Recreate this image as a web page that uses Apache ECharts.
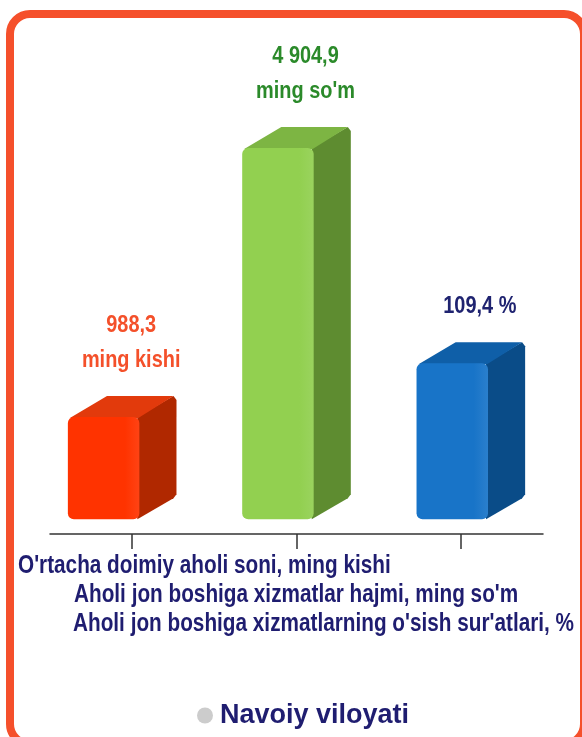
<!DOCTYPE html>
<html>
<head>
<meta charset="utf-8">
<script src="https://cdn.jsdelivr.net/npm/echarts@6/dist/echarts.min.js"></script>
<style>
html, body {margin:0; padding:0; background:#ffffff;}
#main {width:582px; height:737px;}
</style>
</head>
<body>
<div id="main"></div>
<script>
// kategoriyalar va qiymatlar
var categories = [
    "O'rtacha doimiy aholi soni, ming kishi",
    "Aholi jon boshiga xizmatlar hajmi, ming so'm",
    "Aholi jon boshiga xizmatlarning o'sish sur'atlari, %"
];
var valueLabels = ['988,3\nming kishi', "4 904,9\nming so'm", '109,4 %'];
// ustun balandligi (rasmdagi nisbiy balandlik, eng balandi = 100)
var barHeights = [27.5, 100, 42];
var legendName = 'Navoiy viloyati';

var frontColors = ['#ff3300', '#92d050', '#1874c8'];
var topColors = ['#e23a0c', '#7db543', '#0f5fa8'];
var sideColors = ['#b02800', '#5e8c30', '#0a4c88'];
var labelColors = ['#f4502a', '#2b8a2a', '#1f2370'];

// tor shrift yo'q, shuning uchun matnni gorizontal siqamiz
var FONT = "'Liberation Sans', Arial, sans-serif";
var NARROW = 0.83;
var NAVY = '#1f1d70';

var myChart = echarts.init(document.getElementById('main'));

function renderItem(params, api) {
    var i = params.dataIndex;
    var base = api.coord([i, 0]);
    var top = api.coord([i, api.value(1)]);
    var band = api.size([1, 0])[0];
    var fw = band * 0.41;
    var dx = band * 0.213;
    var dy = 21;
    var x0 = base[0] - (fw + dx) / 2;
    var yt = top[1], yb = base[1];
    return {
        type: 'group',
        children: [
            {
                type: 'polygon',
                shape: {points: [[x0 + fw - 2, yt], [x0 + fw + dx - 3, yt - dy], [x0 + fw + dx, yt - dy + 4], [x0 + fw + dx, yb - dy - 4], [x0 + fw + dx - 3, yb - dy], [x0 + fw - 2, yb]]},
                style: {fill: sideColors[i]}
            },
            {
                type: 'polygon',
                shape: {points: [[x0 + 2, yt + 1], [x0 + dx + 2, yt - dy], [x0 + fw + dx - 3, yt - dy], [x0 + fw - 1, yt + 1]]},
                style: {fill: topColors[i]}
            },
            {
                type: 'rect',
                shape: {x: x0, y: yt, width: fw, height: yb - yt, r: 6},
                style: {
                    fill: new echarts.graphic.LinearGradient(0, 0, 1, 0, [
                        {offset: 0, color: frontColors[i]},
                        {offset: 0.8, color: frontColors[i]},
                        {offset: 1, color: echarts.color.lift(frontColors[i], 0.08)}
                    ])
                }
            },
            {
                type: 'text',
                x: x0 + (fw + dx) / 2 + 9,
                y: yt - dy - 18,
                scaleX: NARROW,
                style: {
                    text: valueLabels[i],
                    fill: labelColors[i],
                    font: 'bold 24px ' + FONT,
                    lineHeight: 35,
                    align: 'center',
                    verticalAlign: 'bottom'
                }
            }
        ]
    };
}

var labelPos = [[18, 566], [74, 595], [73, 624]];
var graphics = [{
    type: 'rect',
    shape: {x: 10, y: 14, width: 574, height: 730, r: 20},
    style: {fill: 'transparent', stroke: '#f5502b', lineWidth: 8},
    silent: true
}];
categories.forEach(function (name, i) {
    graphics.push({
        type: 'text',
        x: labelPos[i][0],
        y: labelPos[i][1],
        scaleX: NARROW,
        style: {
            text: name,
            fill: NAVY,
            font: 'bold 25px ' + FONT,
            align: 'left',
            verticalAlign: 'middle'
        }
    });
});

option = {
    backgroundColor: '#ffffff',
    animation: false,
    graphic: graphics,
    legend: {
        data: [legendName],
        left: 192,
        top: 697,
        icon: 'circle',
        itemWidth: 20,
        itemHeight: 16,
        itemStyle: {color: '#cccccc'},
        textStyle: {color: NAVY, fontSize: 27, fontWeight: 'bold', fontFamily: FONT}
    },
    grid: [
        {left: 35, right: 24, top: 148, bottom: 203},
        {left: 50, right: 39, top: 148, bottom: 203}
    ],
    xAxis: [
        {
            type: 'category',
            gridIndex: 0,
            data: categories,
            show: false
        },
        {
            type: 'category',
            gridIndex: 1,
            data: categories,
            axisLine: {show: true, onZero: false, lineStyle: {color: '#333333', width: 1.5}},
            axisTick: {show: true, interval: 0, alignWithLabel: true, length: 15, lineStyle: {color: '#333333', width: 1.5}},
            axisLabel: {show: false}
        }
    ],
    yAxis: [
        {type: 'value', gridIndex: 0, min: -4, max: 100, show: false},
        {type: 'value', gridIndex: 1, min: -4, max: 100, show: false}
    ],
    series: [
        {
            name: legendName,
            type: 'custom',
            xAxisIndex: 0,
            yAxisIndex: 0,
            clip: false,
            renderItem: renderItem,
            itemStyle: {color: '#cccccc'},
            data: barHeights.map(function (v, i) { return [i, v]; })
        }
    ]
};

myChart.setOption(option);
</script>
</body>
</html>
